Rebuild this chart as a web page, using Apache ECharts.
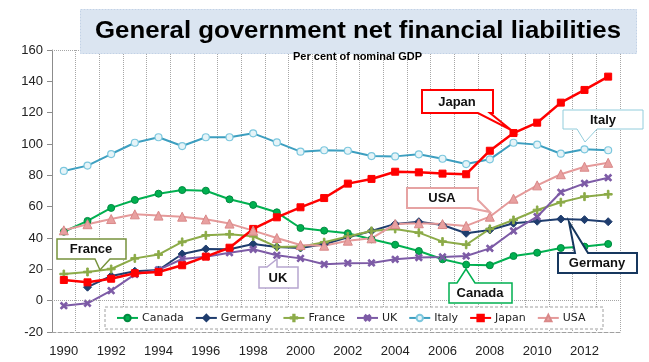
<!DOCTYPE html>
<html><head><meta charset="utf-8">
<script src="https://cdn.jsdelivr.net/npm/echarts@6/dist/echarts.min.js"></script>
<style>html,body{margin:0;padding:0;background:#fff}#c{width:649px;height:362px}</style>
</head><body><div id="c"></div>
<script>
const years = ['1990','1991','1992','1993','1994','1995','1996','1997','1998','1999','2000','2001','2002','2003','2004','2005','2006','2007','2008','2009','2010','2011','2012','2013'];
const canada  = [44.0,50.9,59.2,64.3,68.3,70.6,70.2,64.7,61.1,56.4,46.4,44.7,43.0,39.2,35.7,31.7,26.4,23.0,22.6,28.5,30.6,33.6,34.5,36.2];
const germany = [null,8.6,15.8,18.8,19.6,29.8,33.0,32.8,36.2,34.3,33.6,36.0,40.5,44.5,49.0,50.4,48.3,43.0,45.1,49.4,50.7,52.1,51.7,50.4];
const france  = [17.0,18.3,20.2,27.0,29.4,37.5,41.7,42.4,41.1,34.3,34.5,37.3,41.0,44.5,45.8,43.4,37.7,35.7,45.8,51.5,57.9,62.8,66.4,67.9];
const uk      = [-3.2,-1.7,6.4,16.8,19.6,26.6,28.1,30.6,32.8,29.0,27.0,23.2,23.9,24.1,26.4,27.5,27.9,28.5,33.4,44.5,53.6,69.2,74.9,78.5];
const italy   = [82.8,86.2,93.6,100.8,104.3,98.7,104.3,104.3,106.8,101.0,95.1,96.0,95.7,92.3,92.1,93.4,90.6,87.2,90.2,100.8,99.6,93.8,96.6,96.0];
const japan   = [13.2,11.7,14.0,17.5,18.3,22.6,28.1,33.8,45.8,53.2,59.6,65.5,74.7,77.7,82.3,81.9,81.1,80.7,95.7,107.0,113.6,126.4,134.5,143.0];
const usa     = [44.9,48.8,52.1,55.1,54.3,53.6,51.9,49.2,44.7,40.0,35.5,35.1,38.3,39.8,48.9,49.4,48.9,47.7,53.6,65.1,73.6,80.7,85.5,88.0];
const seriesNames = ['Canada','Germany','France','UK','Italy','Japan','USA'];
const titleText = 'General government net financial liabilities';
const subtitleText = 'Per cent of nominal GDP';

function measure(font, txt){const c=document.createElement('canvas').getContext('2d');c.font=font;return c.measureText(txt).width;}
const titleFont = 'bold 24px "Liberation Sans"';
const titleScale = 526 / measure(titleFont, titleText);
const subFont = 'bold 10px "Liberation Sans"';
const subScale = 129 / measure(subFont, subtitleText);

const plus = 'path://M4,0h2v4h4v2h-4v4h-2v-4h-4v-2h4z';
function mk(name, data, color, symbol, size, extra){
  return Object.assign({
    name, type:'line', data, symbol, symbolSize:size, showAllSymbol:true,
    lineStyle:{color, width:2}, itemStyle:{color, borderColor:color, borderWidth:1},
    connectNulls:false, animation:false
  }, extra||{});
}
const series = [
  mk('Canada', canada, '#00b050', 'circle', 7, {itemStyle:{color:'#00b050', borderColor:'#008a40', borderWidth:1}}),
  mk('Germany', germany, '#1f3d6e', 'diamond', 8),
  mk('France', france, '#8cab48', plus, 8),
  mk('UK', uk, '#7d5ba6', plus, 8, {symbolRotate:45}),
  mk('Italy', italy, '#3d9fc0', 'circle', 7, {itemStyle:{color:'#e6f4f8', borderColor:'#7cc7de', borderWidth:1.2}}),
  mk('Japan', japan, '#ff0000', 'rect', 7, {lineStyle:{color:'#ff0000', width:2.5}}),
  mk('USA', usa, '#e59a9a', 'triangle', 9, {itemStyle:{color:'#e8a0a0', borderColor:'#d98888', borderWidth:1}}),
];
series[0].markLine = {silent:true, symbol:'none', label:{show:false}, animation:false,
  lineStyle:{color:'#a6a6a6', type:'dotted', width:1}, data:[{yAxis:0},{yAxis:160}]};

function callout(pts, color, w, label, cx, cy, dash){
  return [
    {type:'polygon', z:20, shape:{points:pts}, style:{fill:'#fff', stroke:color, lineWidth:w, lineDash:dash||null}},
    {type:'text', z:21, x:cx, y:cy, style:{text:label, font:'bold 13px "Liberation Sans"', fill:'#111', align:'center', verticalAlign:'middle', textAlign:'center', textVerticalAlign:'middle'}}
  ];
}
const graphics = [
  {type:'rect', z:3, shape:{x:105, y:307, width:498, height:22}, style:{fill:'#fff', stroke:'#a0a0a0', lineWidth:1, lineDash:[3,2]}},
  {type:'rect', z:20, shape:{x:80.5, y:9.5, width:556, height:44}, style:{fill:'#dbe5f1', stroke:'#c2d2e6', lineWidth:1, lineDash:[2,1]}},
  {type:'text', z:21, x:95, y:31, scaleX:titleScale, style:{text:titleText, font:titleFont, fill:'#000', verticalAlign:'middle', textVerticalAlign:'middle'}},
  {type:'text', z:21, x:293, y:57, scaleX:subScale, style:{text:subtitleText, font:subFont, fill:'#000', verticalAlign:'middle', textVerticalAlign:'middle'}},
  ...callout([[422,90],[493,90],[493,113],[490,113],[511,130],[478,113],[422,113]], '#ff0000', 2, 'Japan', 457, 102),
  ...callout([[563,110],[643,110],[643,129],[597,129],[585,142],[577,129],[563,129]], '#92cddc', 1, 'Italy', 603, 120),
  ...callout([[407,188],[478,188],[478,200],[490,212],[470,208],[407,208]], '#e6a3a3', 2, 'USA', 442, 198),
  ...callout([[57,239],[126,239],[126,259],[110,259],[100,270],[95,259],[57,259]], '#77933c', 1.5, 'France', 91, 249),
  ...callout([[259,267],[267,267],[277,259],[277,267],[298,267],[298,288],[259,288]], '#b7a6d0', 1.5, 'UK', 278, 278),
  ...callout([[449,283],[457,283],[466,269],[475,283],[512,283],[512,303],[449,303]], '#00b050', 1.5, 'Canada', 480, 293),
  ...callout([[558,253],[575,253],[569,222],[588,253],[637,253],[637,273],[558,273]], '#17375e', 2, 'Germany', 597, 263),
];

const chart = echarts.init(document.getElementById('c'), null, {renderer:'canvas'});
chart.setOption({
  backgroundColor:'#fff',
  animation:false,
  grid:{left:52, right:29, top:50, bottom:30},
  legend:{data:seriesNames, left:116, top:312, width:490, z:5, itemWidth:21, itemHeight:8, itemGap:11, padding:0,
    textStyle:{fontFamily:'DejaVu Sans', fontSize:11, color:'#222', padding:[0,0,0,-1]}},
  xAxis:{type:'category', data:years, boundaryGap:true,
    axisLine:{onZero:false, lineStyle:{color:'#a0a0a0', type:'dashed'}},
    axisTick:{show:false},
    axisLabel:{interval:1, margin:13, fontFamily:'Liberation Sans', fontSize:13, color:'#222'},
    splitLine:{show:true, interval:0, lineStyle:{color:'#a6a6a6', type:'dotted', width:1}}},
  yAxis:{type:'value', min:-20, max:160, interval:20,
    axisLine:{show:true, lineStyle:{color:'#8c8c8c'}},
    axisTick:{show:true, length:5, lineStyle:{color:'#8c8c8c'}},
    axisLabel:{margin:9, fontFamily:'Liberation Sans', fontSize:13, color:'#222'},
    splitLine:{show:false}},
  series,
  graphic:graphics
});
</script></body></html>
